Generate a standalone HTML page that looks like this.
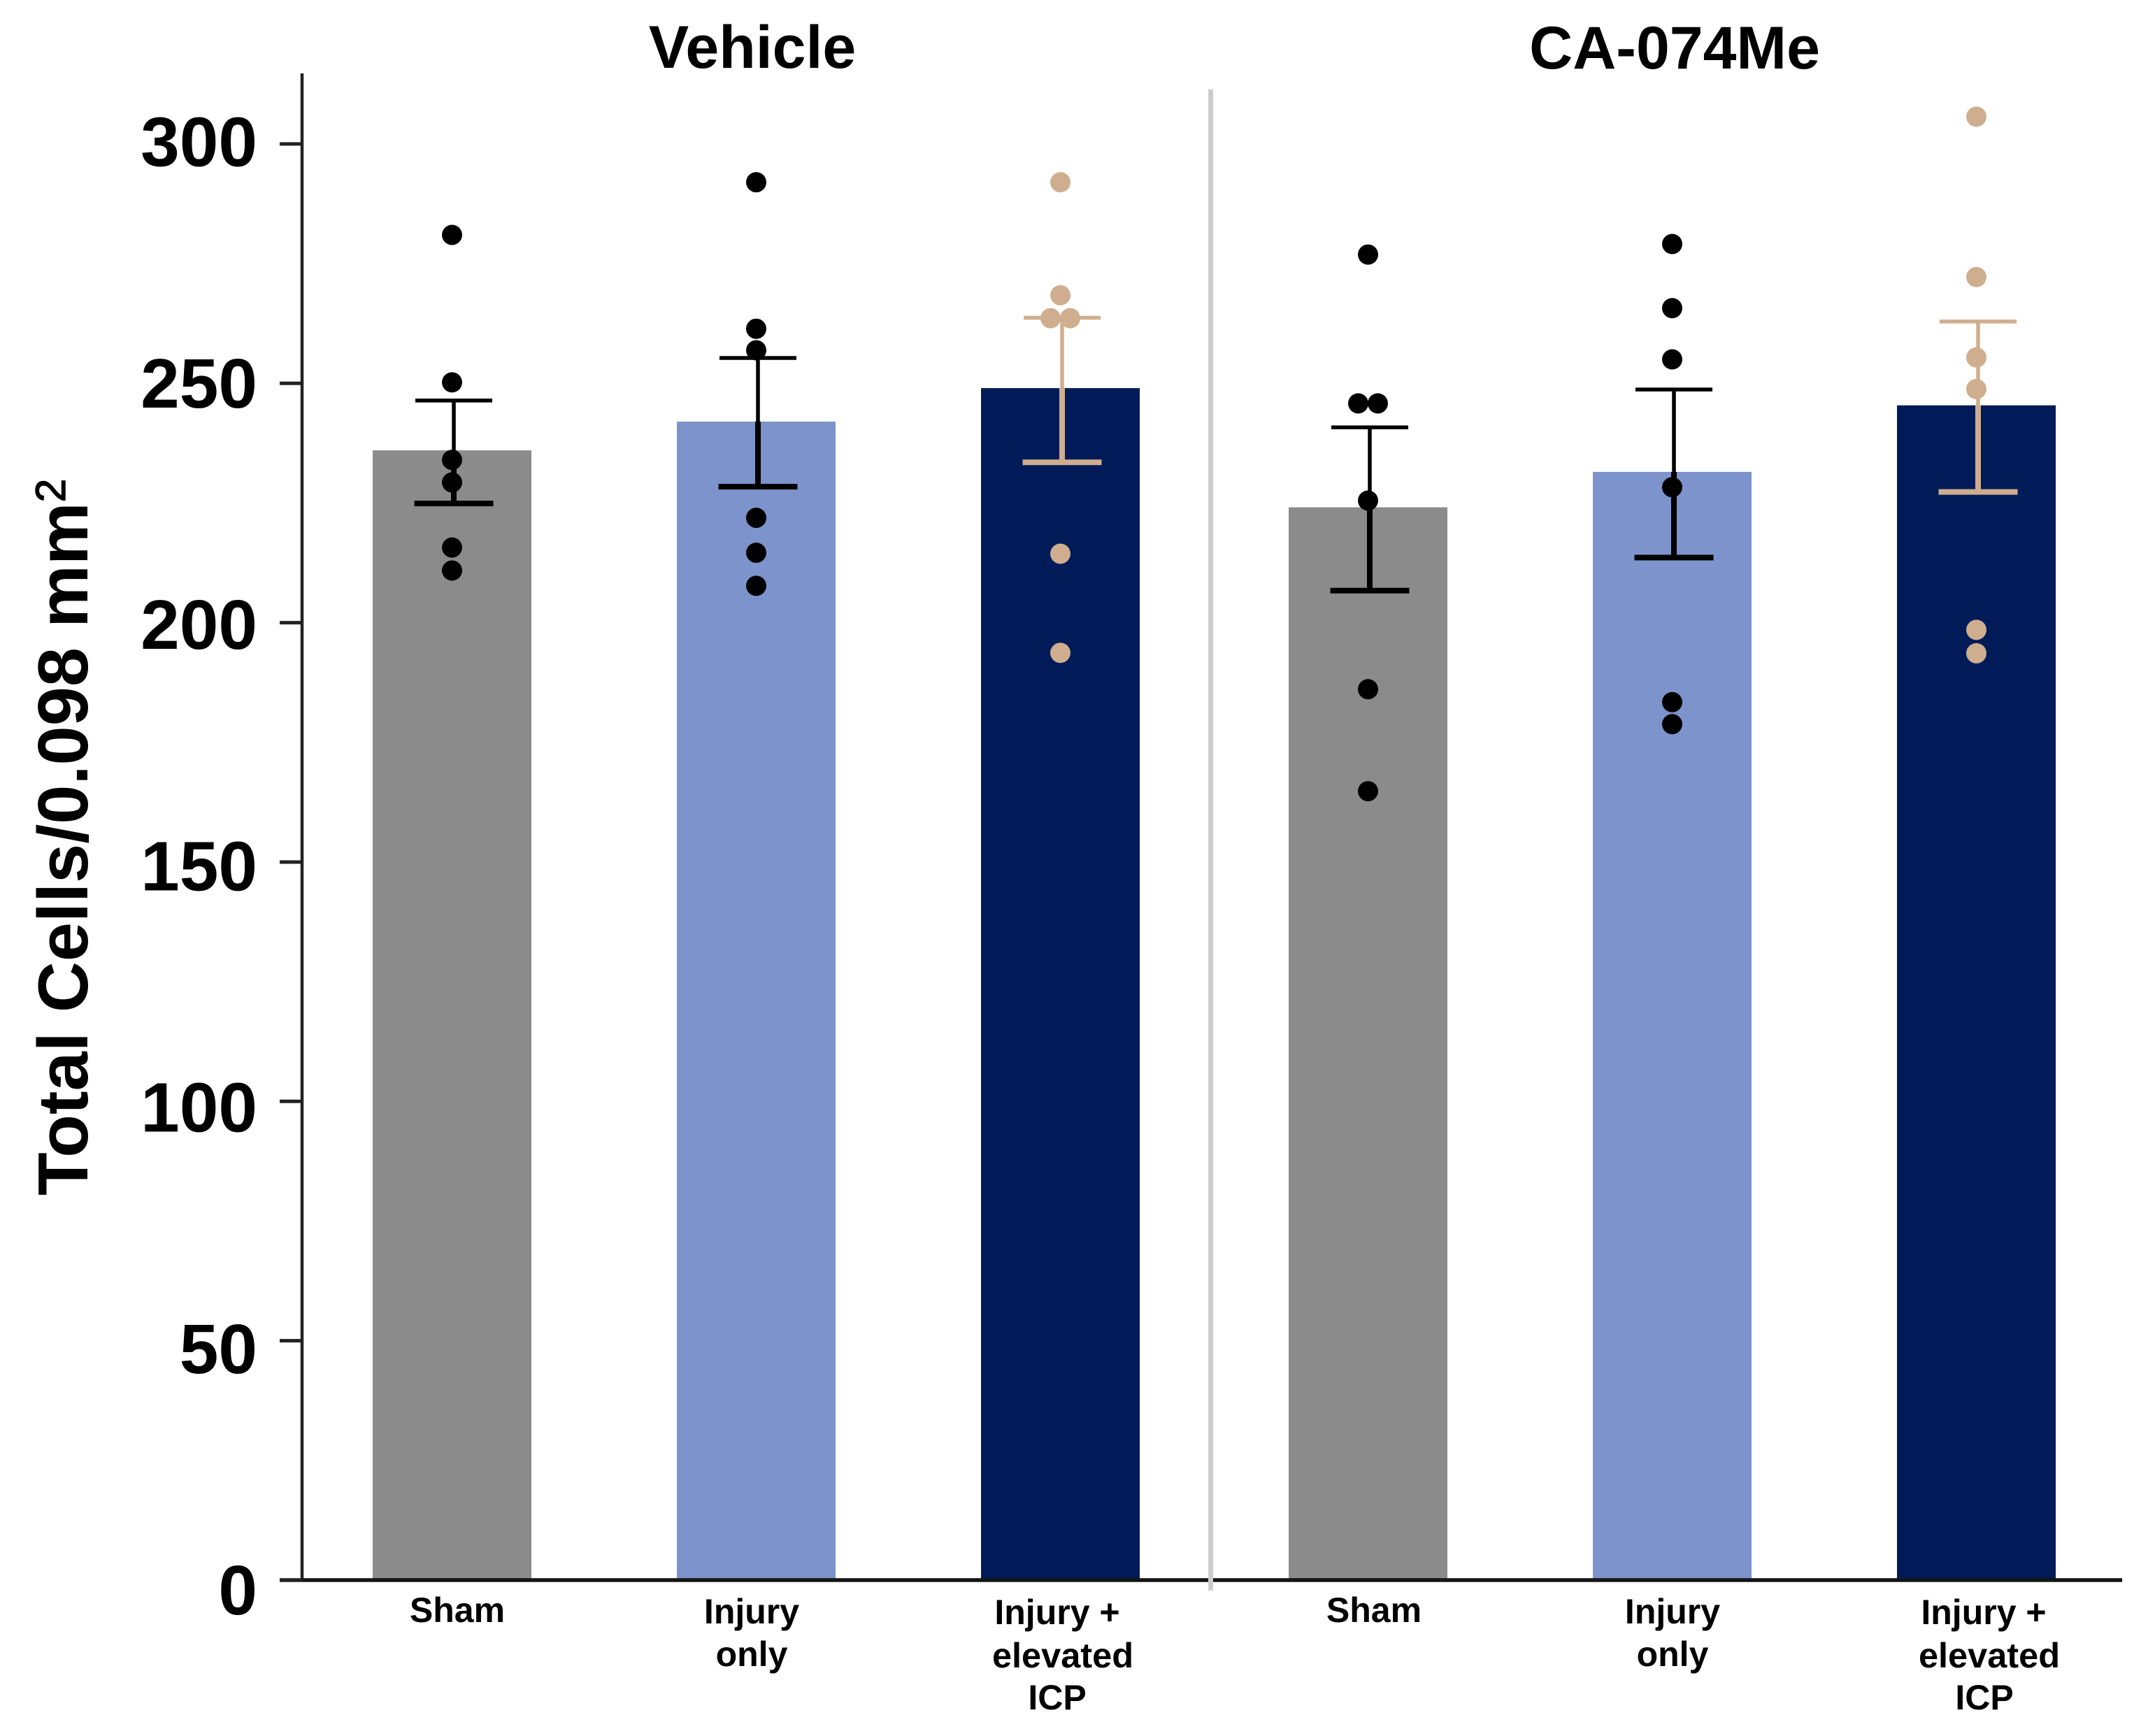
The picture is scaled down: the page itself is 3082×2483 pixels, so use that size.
<!DOCTYPE html>
<html lang="en">
<head>
<meta charset="utf-8">
<title>Total Cells/0.098 mm² bar chart</title>
<style>
html,body{margin:0;padding:0;background:#fff}
svg{display:block}
text{font-family:"Liberation Sans",Arial,sans-serif;font-weight:700;fill:#000}
</style>
</head>
<body>
<svg id="chart" xmlns="http://www.w3.org/2000/svg" width="3082" height="2483" viewBox="0 0 3082 2483">
  <rect x="0" y="0" width="3082" height="2483" fill="#ffffff"/>
  <g id="bars"></g>
  <g id="errors"></g>
  <g id="points"></g>
  <g id="axes"></g>
  <rect x="1728" y="128" width="7" height="2147" fill="#cccccc"/>

  <text x="1076" y="97" font-size="86" text-anchor="middle">Vehicle</text>
  <text x="2395" y="98" font-size="86" text-anchor="middle">CA-074Me</text>

  <text transform="translate(125 1710) rotate(-90)" font-size="101">Total Cells/0.098 mm<tspan font-size="60" font-weight="400" stroke="#000" stroke-width="1.5" dy="-32">2</tspan></text>

  <g font-size="50" text-anchor="middle">
    <text x="654" y="2320" font-size="50">Sham</text>
    <text x="1075" y="2322" font-size="50">Injury</text>
    <text x="1075" y="2383" font-size="50">only</text>
    <text x="1512" y="2323" font-size="50">Injury +</text>
    <text x="1520" y="2385" font-size="50.5">elevated</text>
    <text x="1512" y="2445" font-size="50">ICP</text>
    <text x="1965" y="2320" font-size="50">Sham</text>
    <text x="2392" y="2322" font-size="50">Injury</text>
    <text x="2392" y="2383" font-size="50">only</text>
    <text x="2837" y="2323" font-size="50">Injury +</text>
    <text x="2845" y="2385" font-size="50.5">elevated</text>
    <text x="2838" y="2445" font-size="50">ICP</text>
  </g>
</svg>

<script>
// Chart data
const categories = ['vehicle-sham', 'vehicle-injury-only', 'vehicle-injury-elevated-icp', 'ca074me-sham', 'ca074me-injury-only', 'ca074me-injury-elevated-icp'];
const barMeans = [236, 242, 249, 224.1, 231.5, 245.4];
const errorUpper = [246.4, 255.3, 263.7, 240.8, 248.7, 262.9];
const errorLower = [224.9, 228.4, 233.5, 206.7, 213.6, 227.3];
const pointsSham1 = [281, 250.2, 234, 229.3, 215.7, 210.9];
const pointsInjury1 = [292, 261.4, 256.9, 221.9, 214.6, 207.7];
const pointsIcp1 = [292, 268.4, 263.6, 263.6, 214.4, 193.7];
const pointsSham2 = [276.9, 245.8, 245.8, 225.5, 186.1, 164.8];
const pointsInjury2 = [279.1, 265.7, 255, 228.3, 183.4, 178.8];
const pointsIcp2 = [305.7, 272.2, 255.4, 248.8, 198.5, 193.6];
const pointSeries = [pointsSham1, pointsInjury1, pointsIcp1, pointsSham2, pointsInjury2, pointsIcp2];
const yTicks = [0, 50, 100, 150, 200, 250, 300];
const yTickLabels = ['0', '50', '100', '150', '200', '250', '300'];

// Styling per category
const barColors = ['#8b8b8b', '#7d93cb', '#001b58', '#8b8b8b', '#7d93cb', '#001b58'];
const markColors = ['#000000', '#000000', '#cfae8f', '#000000', '#000000', '#cfae8f'];

// Axis functions
function y(v) { return 2260 - v * 6.847; }
function labelY(v) { return 2273 - v * 6.905; }
function x(i) { return 646.5 + i * 435 + (i >= 3 ? 5 : 0); }

const NS = 'http://www.w3.org/2000/svg';
function make(tag, attrs, parent) {
  const el = document.createElementNS(NS, tag);
  for (const k in attrs) el.setAttribute(k, attrs[k]);
  parent.appendChild(el);
  return el;
}

const barsG = document.getElementById('bars');
const errorsG = document.getElementById('errors');
const pointsG = document.getElementById('points');
const axesG = document.getElementById('axes');

const barWidth = 227;
categories.forEach(function (cat, i) {
  const cx = x(i);
  const bar = make('rect', { x: cx - barWidth / 2, y: y(barMeans[i]), width: barWidth, height: y(0) - y(barMeans[i]), fill: barColors[i] }, barsG);
  
  

  const ex = cx + 2.5;
  const stemTop = make('line', { x1: ex, x2: ex, y1: y(errorUpper[i]), y2: y(barMeans[i]), stroke: markColors[i], 'stroke-width': 5.5 }, errorsG);
  
  

  const stemBottom = make('line', { x1: ex, x2: ex, y1: y(barMeans[i]), y2: y(errorLower[i]), stroke: markColors[i], 'stroke-width': 8 }, errorsG);
  
  

  const capTop = make('line', { x1: ex - 55, x2: ex + 55, y1: y(errorUpper[i]), y2: y(errorUpper[i]), stroke: markColors[i], 'stroke-width': 5.5 }, errorsG);
  
  

  const capBottom = make('line', { x1: ex - 56.5, x2: ex + 56.5, y1: y(errorLower[i]), y2: y(errorLower[i]), stroke: markColors[i], 'stroke-width': 8 }, errorsG);
  
  

  const values = pointSeries[i];
  values.forEach(function (v, j) {
    // Tied values sit side by side, as in the reference
    const tiedBefore = values.indexOf(v) < j;
    const tiedAfter = values.lastIndexOf(v) > j;
    const dx = tiedAfter ? -14 : (tiedBefore ? 14 : 0);
    const dot = make('circle', { cx: cx + dx, cy: y(v), r: 14.5, fill: markColors[i] }, pointsG);
    
    
  });
});

const yAxisLine = make('line', { x1: 432, x2: 432, y1: 105, y2: 2262, stroke: '#222222', 'stroke-width': 4.5 }, axesG);



const xAxisLine = make('line', { x1: 400, x2: 3035, y1: y(0), y2: y(0), stroke: '#141414', 'stroke-width': 5.5 }, axesG);



yTicks.forEach(function (t, i) {
  const tick = make('line', { x1: 400, x2: 432, y1: y(t), y2: y(t), stroke: '#222222', 'stroke-width': 5 }, axesG);
  
  

  const lab = make('text', { x: 368, y: labelY(t) + 36, 'font-size': 100, 'text-anchor': 'end' }, axesG);
  lab.textContent = yTickLabels[i];
  
  
});
</script>
</body>
</html>
